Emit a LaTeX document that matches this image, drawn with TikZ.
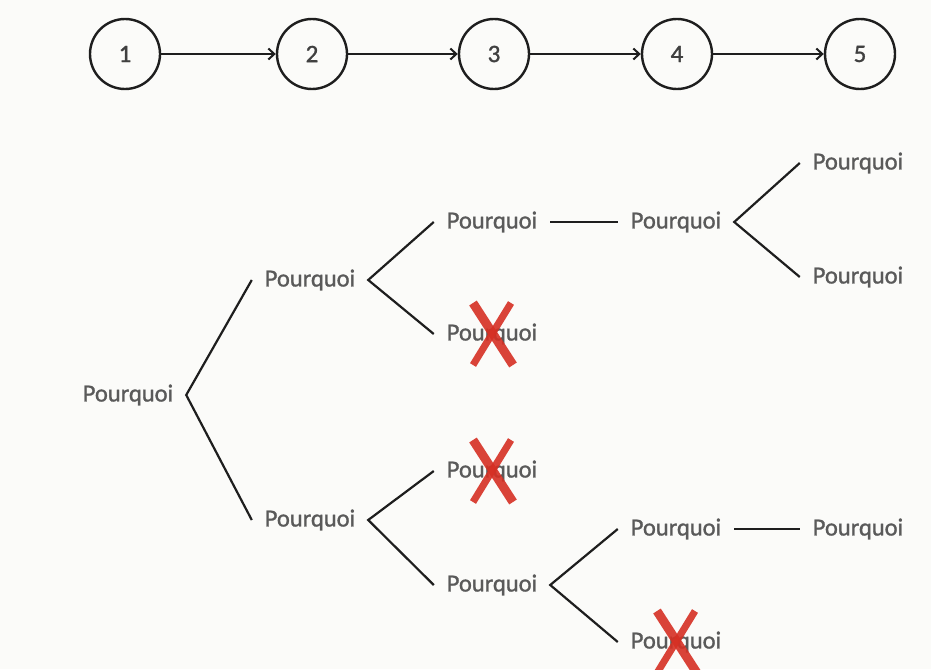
\documentclass[tikz,border=0pt]{standalone}
\usepackage{fontspec}
\setmainfont{Carlito}
\newfontfamily\whyfont[FakeBold=1.2]{Carlito}
\usepackage{xcolor}
\usetikzlibrary{arrows.meta,positioning}

\definecolor{paper}{RGB}{251,251,249}
\definecolor{ink}{RGB}{30,30,30}
\definecolor{word}{RGB}{90,90,90}
\definecolor{nored}{RGB}{214,48,36}

\tikzset{
    step circle/.style={circle, draw=ink, line width=2.4pt, minimum size=70pt,
        inner sep=0pt, font=\whyfont\fontsize{25}{28}\selectfont, text=ink!85},
    flow/.style={line width=2pt, draw=ink, -{Straight Barb[length=6pt,width=11pt,line width=2pt]}},
    why/.style={inner sep=0pt, outer xsep=13pt, text=word, font=\whyfont\fontsize{24.5}{27}\selectfont},
    branch/.style={line width=2.2pt, draw=ink, line join=miter},
    nix/.style={line width=9pt, draw=nored, line cap=butt, opacity=0.9}
}

% red cross over a dropped branch
\newcommand{\crossout}[1]{%
    \draw[nix] ([shift={(-19,-31)}]#1.center) -- ([shift={(21,31)}]#1.center);
    \draw[nix, line width=7pt] ([shift={(19,-31)}]#1.center) -- ([shift={(-19,31)}]#1.center);
}

\begin{document}
\begin{tikzpicture}[x=1pt, y=-1pt]
    \fill[paper] (0,0) rectangle (931,669);
    \useasboundingbox (0,0) rectangle (931,669);

    % the five steps
    \node[step circle] (s1) at (125,54) {1};
    \node[step circle] (s2) at (312,54) {2};
    \node[step circle] (s3) at (494,54) {3};
    \node[step circle] (s4) at (677,54) {4};
    \node[step circle] (s5) at (860,54) {5};
    \foreach \a/\b in {s1/s2, s2/s3, s3/s4, s4/s5}
        \draw[flow] (\a) -- (\b);

    % tree of why questions
    \node[why] (r)    at (128,395) {Pourquoi};
    \node[why] (a)    at (310,280) {Pourquoi};
    \node[why] (b)    at (310,520) {Pourquoi};
    \node[why] (a1)   at (492,222) {Pourquoi};
    \node[why] (a2)   at (492,334) {Pourquoi};
    \node[why] (a1x)  at (676,222) {Pourquoi};
    \node[why] (a1xu) at (858,163) {Pourquoi};
    \node[why] (a1xd) at (858,277) {Pourquoi};
    \node[why] (b1)   at (492,471) {Pourquoi};
    \node[why] (b2)   at (492,585) {Pourquoi};
    \node[why] (b2x)  at (676,529) {Pourquoi};
    \node[why] (b2xr) at (858,529) {Pourquoi};
    \node[why] (b2y)  at (676,642) {Pourquoi};

    \draw[branch] (a.west) -- (r.east) -- (b.west);
    \draw[branch] (a1.west) -- (a.east) -- (a2.west);
    \draw[branch] (b1.west) -- (b.east) -- (b2.west);
    \draw[branch] (a1.east) -- (a1x.west);
    \draw[branch] (a1xu.west) -- (a1x.east) -- (a1xd.west);
    \draw[branch] (b2x.west) -- (b2.east) -- (b2y.west);
    \draw[branch] (b2x.east) -- (b2xr.west);

    \crossout{a2}
    \crossout{b1}
    \crossout{b2y}
\end{tikzpicture}
\end{document}
